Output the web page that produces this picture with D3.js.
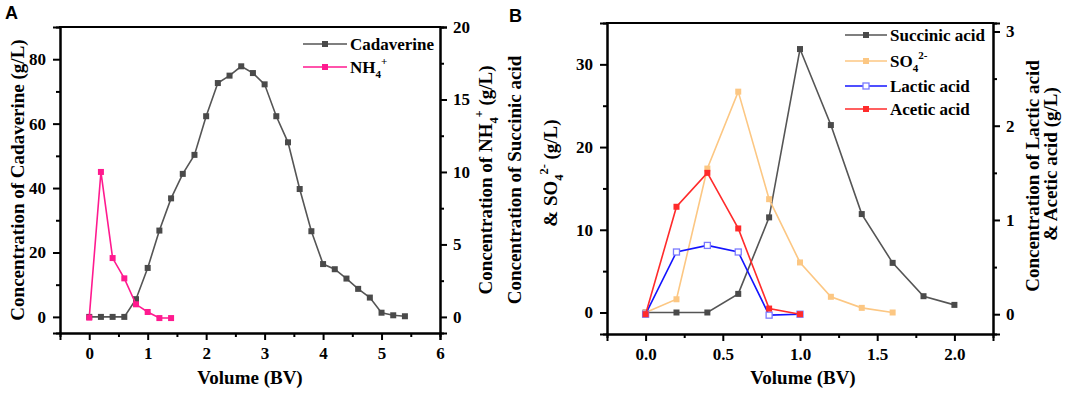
<!DOCTYPE html>
<html>
<head>
<meta charset="utf-8">
<script src="https://cdn.jsdelivr.net/npm/d3@7"></script>
<style>
  html, body { margin: 0; padding: 0; background: #fff; }
  svg { display: block; }
  text { font-family: "Liberation Serif", "Times New Roman", serif; font-weight: bold; fill: #000; }
</style>
</head>
<body>
<svg id="chart" width="1072" height="396"></svg>
<script>
// ---------- Panel A data ----------
const volA = [0,0.2,0.4,0.6,0.8,1.0,1.2,1.4,1.6,1.8,2.0,2.2,2.4,2.6,2.8,3.0,3.2,3.4,3.6,3.8,4.0,4.2,4.4,4.6,4.8,5.0,5.2,5.4];
const cadaverine = [0,0,0,0,5.5,15.2,26.8,36.8,44.4,50.3,62.3,72.6,74.9,77.8,75.7,72.2,62.3,54.2,39.7,26.6,16.4,14.8,11.9,8.7,6.0,1.3,0.5,0.2];
const volNH4 = [0,0.2,0.4,0.6,0.8,1.0,1.2,1.4];
const nh4 = [-0.05,10.0,4.06,2.66,0.87,0.34,-0.08,-0.08];

// ---------- Panel B data ----------
const volSuccinic = [0,0.2,0.4,0.6,0.8,1.0,1.2,1.4,1.6,1.8,2.0];
const succinic = [0,0,0,2.25,11.5,31.85,22.66,11.9,6.0,1.97,0.92];
const volSO4 = [0,0.2,0.4,0.6,0.8,1.0,1.2,1.4,1.6];
const so4 = [0,1.6,17.4,26.7,13.7,6.05,1.9,0.56,0.0];
const volLA = [0,0.2,0.4,0.6,0.8,1.0];
const lactic = [0,0.66,0.73,0.66,-0.01,0];
const acetic = [0,1.14,1.50,0.91,0.06,0.0];

// ---------- tick values ----------
const xTicksA = [0,1,2,3,4,5,6];
const xMinorA = [0.5,1.5,2.5,3.5,4.5,5.5];
const yLeftTicksA = [0,20,40,60,80];
const yLeftMinorA = [10,30,50,70];
const yRightTicksA = [0,5,10,15,20];
const yRightMinorA = [2.5,7.5,12.5,17.5];
const xTicksB = [0,0.5,1.0,1.5,2.0];
const xMinorB = [0.25,0.75,1.25,1.75];
const yLeftTicksB = [0,10,20,30];
const yLeftMinorB = [5,15,25];
const yRightTicksB = [0,1,2,3];
const yRightMinorB = [0.5,1.5,2.5];

const svg = d3.select("#chart");

// rich text; (x,y) is the text baseline anchor point
function richText(g, parts, x, y, size, rotate, anchor) {
  const t = g.append("text")
    .attr("transform", `translate(${x},${y})` + (rotate ? ` rotate(${rotate})` : ""))
    .attr("text-anchor", anchor || "middle")
    .style("font-size", size + "px");
  let shift = 0;
  parts.forEach(p => {
    const [txt, kind] = Array.isArray(p) ? p : [p, "n"];
    let target = 0;
    let fs = size;
    if (kind === "sub") { target = size * 0.3; fs = size * 0.65; }
    if (kind === "sup") { target = -size * 0.45; fs = size * 0.65; }
    t.append("tspan").attr("dy", target - shift).style("font-size", fs + "px").text(txt);
    shift = target;
  });
  return t;
}

function styleAxis(sel) {
  sel.selectAll(".domain").attr("stroke", "#000").attr("stroke-width", 2);
  sel.selectAll(".tick line").attr("stroke", "#000").attr("stroke-width", 2);
  sel.selectAll(".tick text").style("font-size", "17px")
    .style("font-family", '"Liberation Serif", "Times New Roman", serif')
    .style("font-weight", "bold").attr("fill", "#000");
}

const fmtInt = d3.format("d");

function drawFrame(g, x, yL, yR, opts) {
  const [x0, x1] = x.range();
  const [yb, yt] = yL.range();
  const bx = g.append("g").attr("transform", `translate(0,${yb})`)
    .call(d3.axisBottom(x).tickValues(opts.xTicks).tickSize(7).tickPadding(7).tickFormat(opts.xFmt));
  styleAxis(bx);
  const bxm = g.append("g").attr("transform", `translate(0,${yb})`)
    .call(d3.axisBottom(x).tickValues(opts.xMinor).tickSize(4).tickFormat(""));
  styleAxis(bxm);
  const ly = g.append("g").attr("transform", `translate(${x0},0)`)
    .call(d3.axisLeft(yL).tickValues(opts.yLTicks).tickSize(7).tickPadding(7).tickFormat(fmtInt));
  styleAxis(ly);
  const lym = g.append("g").attr("transform", `translate(${x0},0)`)
    .call(d3.axisLeft(yL).tickValues(opts.yLMinor).tickSize(4).tickFormat(""));
  styleAxis(lym);
  const ry = g.append("g").attr("transform", `translate(${x1},0)`)
    .call(d3.axisRight(yR).tickValues(opts.yRTicks).tickSize(7).tickPadding(6).tickFormat(fmtInt));
  styleAxis(ry);
  const rym = g.append("g").attr("transform", `translate(${x1},0)`)
    .call(d3.axisRight(yR).tickValues(opts.yRMinor).tickSize(4).tickFormat(""));
  styleAxis(rym);
  g.append("line").attr("x1", x0 - 1).attr("x2", x1 + 1).attr("y1", yt).attr("y2", yt)
    .attr("stroke", "#000").attr("stroke-width", 2);
}

function drawSeries(g, xs, ys, x, y, color, markerFill, markerStroke) {
  const data = xs.map((v, i) => [v, ys[i]]);
  g.append("path").datum(data)
    .attr("fill", "none").attr("stroke", color).attr("stroke-width", 1.6)
    .attr("d", d3.line().x(d => x(d[0])).y(d => y(d[1])));
  const s = 6;
  g.selectAll(null).data(data).enter().append("rect")
    .attr("x", d => x(d[0]) - s / 2).attr("y", d => y(d[1]) - s / 2)
    .attr("width", s).attr("height", s)
    .attr("fill", markerFill).attr("stroke", markerStroke || "none").attr("stroke-width", 1.3);
}

function legendItem(g, x0, x1, y, color, markerFill, markerStroke, parts) {
  g.append("line").attr("x1", x0).attr("x2", x1).attr("y1", y).attr("y2", y)
    .attr("stroke", color).attr("stroke-width", 1.6);
  const s = 6, xm = (x0 + x1) / 2;
  g.append("rect").attr("x", xm - s / 2).attr("y", y - s / 2).attr("width", s).attr("height", s)
    .attr("fill", markerFill).attr("stroke", markerStroke || "none").attr("stroke-width", 1.3);
  richText(g, parts, x1 + 3, y + 6, 17, 0, "start");
}

// ================= Panel A =================
const gA = svg.append("g");
const xA = d3.scaleLinear().domain([-0.5, 6]).range([60, 440]);
const yA = d3.scaleLinear().domain([-5, 90]).range([333, 27]);
const yA2 = d3.scaleLinear().domain([-1.11, 20]).range([333, 27]);
drawFrame(gA, xA, yA, yA2, {
  xTicks: xTicksA, xMinor: xMinorA, xFmt: d3.format("d"),
  yLTicks: yLeftTicksA, yLMinor: yLeftMinorA, yRTicks: yRightTicksA, yRMinor: yRightMinorA
});
const cGray = "#555555", cGrayM = "#4a4a4a", cPink = "#ff1a8f";
drawSeries(gA, volA, cadaverine, xA, yA, cGray, cGrayM);
drawSeries(gA, volNH4, nh4, xA, yA2, cPink, cPink);
legendItem(gA, 303, 347, 44, cGray, cGrayM, null, ["Cadaverine"]);
legendItem(gA, 303, 347, 67, cPink, cPink, null, ["NH", ["4", "sub"], ["+", "sup"]]);
richText(gA, ["Concentration of Cadaverine (g/L)"], 24, 180, 19, -90);
richText(gA, ["Concentration of NH", ["4", "sub"], ["+", "sup"], " (g/L)"], 492, 180, 19, -90);
richText(gA, ["Volume (BV)"], 250, 384, 19, 0);
gA.append("text").attr("x", 5).attr("y", 19)
  .style("font-family", '"Liberation Sans", Arial, sans-serif').style("font-size", "18px").text("A");

// ================= Panel B =================
const gB = svg.append("g");
const xB = d3.scaleLinear().domain([-0.25, 2.25]).range([607, 993]);
const yB = d3.scaleLinear().domain([-2.6, 35]).range([334, 23]);
const yB2 = d3.scaleLinear().domain([-0.21, 3.09]).range([334, 23]);
drawFrame(gB, xB, yB, yB2, {
  xTicks: xTicksB, xMinor: xMinorB, xFmt: d3.format(".1f"),
  yLTicks: yLeftTicksB, yLMinor: yLeftMinorB, yRTicks: yRightTicksB, yRMinor: yRightMinorB
});
const cOrange = "#fcc783", cBlue = "#1414ff", cBlueM = "#7a7aff", cRed = "#ff2b2b";
drawSeries(gB, volSuccinic, succinic, xB, yB, cGray, cGrayM);
drawSeries(gB, volSO4, so4, xB, yB, cOrange, cOrange);
drawSeries(gB, volLA, lactic, xB, yB2, cBlue, "#fff", cBlueM);
drawSeries(gB, volLA, acetic, xB, yB2, cRed, cRed);
legendItem(gB, 845, 887, 35, cGray, cGrayM, null, ["Succinic acid"]);
legendItem(gB, 845, 887, 61, cOrange, cOrange, null, ["SO", ["4", "sub"], ["2-", "sup"]]);
legendItem(gB, 845, 887, 86, cBlue, "#fff", cBlueM, ["Lactic acid"]);
legendItem(gB, 845, 887, 109, cRed, cRed, null, ["Acetic acid"]);
richText(gB, ["Concentration of Succinic acid"], 521, 180, 19, -90);
richText(gB, ["& SO", ["4", "sub"], ["2-", "sup"], " (g/L)"], 557, 173, 19, -90);
richText(gB, ["Concentration of Lactic acid"], 1039, 176, 19, -90);
richText(gB, ["& Acetic acid (g/L)"], 1057, 164, 19, -90);
richText(gB, ["Volume (BV)"], 803, 384, 19, 0);
gB.append("text").attr("x", 509).attr("y", 22)
  .style("font-family", '"Liberation Sans", Arial, sans-serif').style("font-size", "18px").text("B");
</script>
</body>
</html>
